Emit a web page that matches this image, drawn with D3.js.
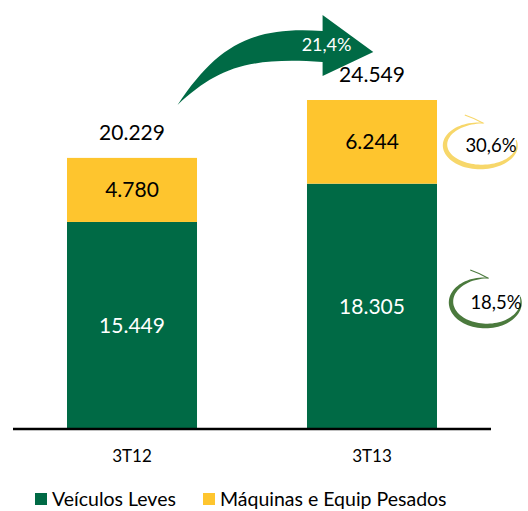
<!DOCTYPE html>
<html>
<head>
<meta charset="utf-8">
<script src="https://cdn.jsdelivr.net/npm/d3@7"></script>
<style>
  body { margin: 0; background: #fff; }
  text { font-family: Lato, "Open Sans", sans-serif; }
</style>
</head>
<body>
<svg id="chart"></svg>
<script>
// donnees
const periodos = ["3T12", "3T13"];
const leves = [15449, 18305];
const pesados = [4780, 6244];
const totais = [20229, 24549];
const variacaoTotal = "21,4%";
const variacaoPesados = "30,6%";
const variacaoLeves = "18,5%";
const series = ["Veículos Leves", "Máquinas e Equip Pesados"];

const verde = "#006a45";
const amarelo = "#fec52e";

const width = 528, height = 511;
const baseY = 429;

const svg = d3.select("#chart").attr("width", width).attr("height", height);

const x = d3.scaleBand().domain(periodos).range([12, 492]).paddingInner(0.4583).paddingOuter(0.2292);
const y = d3.scaleLinear().domain([0, 24549]).range([baseY, 100]);

const fmt = (v) => d3.format(",")(v).replace(/,/g, ".");

const dados = periodos.map((p, i) => ({ p, leves: leves[i], pesados: pesados[i], total: totais[i] }));

// barras verdes
svg.selectAll(".leves")
  .data(dados)
  .join("rect")
  .attr("x", (d) => x(d.p))
  .attr("width", x.bandwidth())
  .attr("y", (d) => y(d.leves))
  .attr("height", (d) => y(0) - y(d.leves))
  .attr("fill", verde);

// barras amarelas
svg.selectAll(".pesados")
  .data(dados)
  .join("rect")
  .attr("x", (d) => x(d.p))
  .attr("width", x.bandwidth())
  .attr("y", (d) => y(d.leves + d.pesados))
  .attr("height", (d) => y(d.leves) - y(d.leves + d.pesados))
  .attr("fill", amarelo);

// rotulos
svg.selectAll(".lbLeves")
  .data(dados)
  .join("text")
  .attr("x", (d) => x(d.p) + x.bandwidth() / 2)
  .attr("y", (d) => (y(d.leves) + y(0)) / 2 + 8)
  .attr("text-anchor", "middle")
  .attr("font-size", 21)
  .attr("fill", "#fff")
  .text((d) => fmt(d.leves));

svg.selectAll(".lbPesados")
  .data(dados)
  .join("text")
  .attr("x", (d) => x(d.p) + x.bandwidth() / 2)
  .attr("y", (d) => (y(d.leves) + y(d.leves + d.pesados)) / 2 + 7)
  .attr("text-anchor", "middle")
  .attr("font-size", 21)
  .attr("fill", "#000")
  .text((d) => fmt(d.pesados));

svg.selectAll(".lbTotal")
  .data(dados)
  .join("text")
  .attr("x", (d) => x(d.p) + x.bandwidth() / 2)
  .attr("y", (d) => y(d.total) - 18)
  .attr("text-anchor", "middle")
  .attr("font-size", 21)
  .attr("fill", "#000")
  .text((d) => fmt(d.total));

// eixo
const axis = svg.append("g")
  .attr("transform", `translate(0,${baseY})`)
  .call(d3.axisBottom(x).tickSize(0).tickPadding(21));
axis.select(".domain").attr("stroke", "#000").attr("stroke-width", 2.5).attr("d", "M13,0H491");
axis.selectAll("text").attr("font-size", 17).attr("fill", "#000").style("font-family", "Lato, sans-serif");

// seta curva
const sx = x(periodos[0]) + x.bandwidth() * 0.85;
const hx = x(periodos[1]) + x.bandwidth() * 0.12;
const tx = x(periodos[1]) + x.bandwidth() * 0.51;
const seta = d3.path();
seta.moveTo(sx, 105);
seta.bezierCurveTo(sx + 40, 45, hx - 70, 26, hx, 31);
seta.lineTo(hx, 15);
seta.lineTo(tx, 52);
seta.lineTo(hx, 76);
seta.lineTo(hx, 62);
seta.bezierCurveTo(hx - 75, 57, sx + 40, 68, sx, 105);
seta.closePath();
svg.append("path").attr("d", seta.toString()).attr("fill", verde);
svg.append("text")
  .attr("x", hx + 4).attr("y", 51)
  .attr("text-anchor", "middle")
  .attr("font-size", 18)
  .attr("fill", "#fff")
  .text(variacaoTotal);

// circulos de variacao (traco de pincel)
function circulo(cx, cy, rx, ry, cor, texto) {
  const g = svg.append("g");
  const span = 290;
  const angs = d3.range(0, span + 1, 4);
  const ponto = (a, dr) => {
    const t = (-85 - a) * Math.PI / 180;
    return [cx + (rx + dr) * Math.cos(t), cy + (ry + dr) * Math.sin(t)];
  };
  const esp = (a) => 0.8 + 4.2 * Math.sin(Math.PI * a / span);
  const fora = angs.map((a) => ponto(a, esp(a) / 2));
  const dentro = angs.slice().reverse().map((a) => ponto(a, -esp(a) / 2));
  g.append("path")
    .attr("d", d3.line()(fora.concat(dentro)) + "Z")
    .attr("fill", cor);
  g.append("path")
    .attr("d", `M${cx + rx * 0.05},${cy - ry}Q${cx - rx * 0.2},${cy - ry - 5} ${cx - rx * 0.45},${cy - ry - 8}`)
    .attr("stroke", cor)
    .attr("stroke-width", 1.2)
    .attr("fill", "none");
  g.append("text")
    .attr("x", cx + 10).attr("y", cy + 7)
    .attr("text-anchor", "middle")
    .attr("font-size", 18.5)
    .attr("fill", "#000")
    .text(texto);
}
circulo(481, 145, 36, 22, "#f7d76a", variacaoPesados);
circulo(486, 302, 35, 24, "#4b7a3d", variacaoLeves);

// legenda
const leg = svg.append("g").attr("transform", "translate(35,493)");
const posLeg = [0, 168];
leg.selectAll("rect")
  .data(series)
  .join("rect")
  .attr("x", (d, i) => posLeg[i])
  .attr("y", 0)
  .attr("width", 12)
  .attr("height", 12)
  .attr("fill", (d, i) => (i === 0 ? verde : amarelo));
leg.selectAll("text")
  .data(series)
  .join("text")
  .attr("x", (d, i) => posLeg[i] + 17)
  .attr("y", 13)
  .attr("font-size", 19.5)
  .attr("fill", "#000")
  .text((d) => d);
</script>
</body>
</html>
